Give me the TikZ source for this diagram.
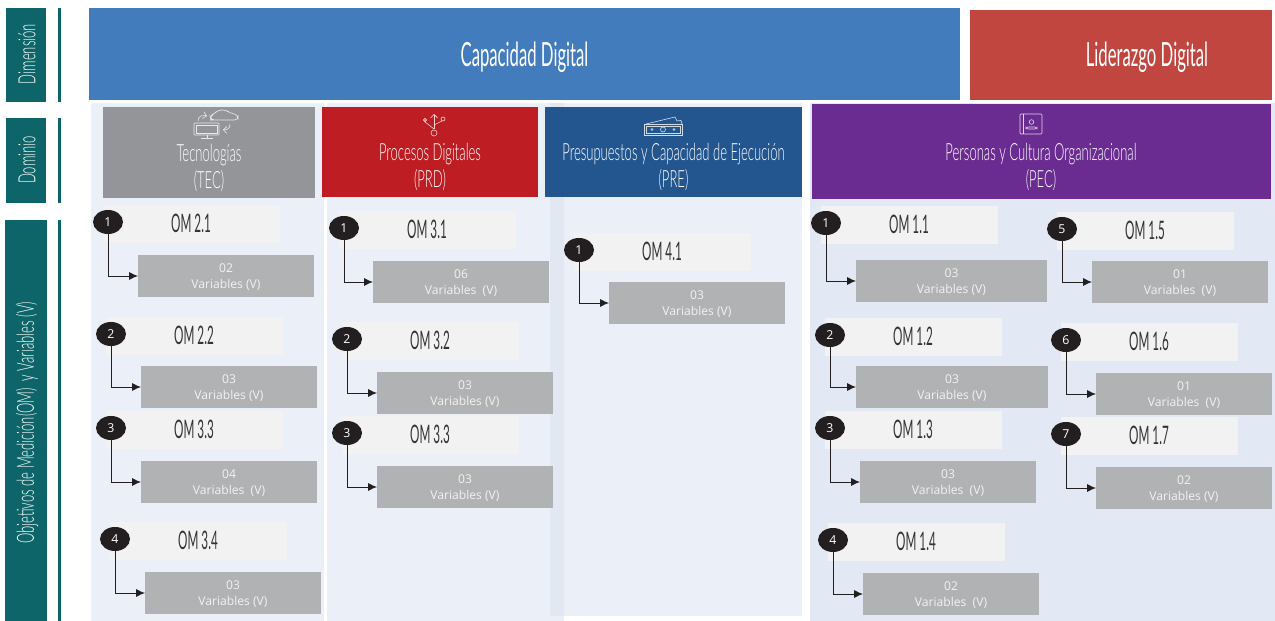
\documentclass[tikz,border=0pt]{standalone}
\usepackage{fontspec}
\usepackage{tikz}
\usetikzlibrary{arrows.meta, positioning, shapes.geometric}
\setmainfont{Open Sans}
\newfontfamily\thinfont[FakeStretch=0.55]{Lato Light}
\newfontfamily\headfont[FakeStretch=0.5]{Lato}
\newfontfamily\omfont[FakeStretch=0.46]{Lato}
\definecolor{tealDark}{HTML}{0E6569}
\definecolor{blueDim}{HTML}{437CBD}
\definecolor{redDim}{HTML}{C0463F}
\definecolor{grayTec}{HTML}{939598}
\definecolor{redPrd}{HTML}{BE1E23}
\definecolor{bluePre}{HTML}{23568F}
\definecolor{purplePec}{HTML}{6A2C91}
\definecolor{panelLight}{HTML}{EBF0F8}
\definecolor{panelOver}{HTML}{E1E8F2}
\definecolor{panelPec}{HTML}{E3E9F4}
\definecolor{omFill}{HTML}{F2F2F2}
\definecolor{varFill}{HTML}{B1B2B4}
\definecolor{badgeBlack}{HTML}{231F20}
\definecolor{omText}{HTML}{333333}
\def\px{0.02cm}
\tikzset{
    block/.style={anchor=north west, inner sep=0pt, outer sep=0pt},
    sidetext/.style={rotate=90, text=white, font=\thinfont\fontsize{13.5}{14}\selectfont},
    dimtext/.style={text=white, font=\headfont\fontsize{19}{21}\selectfont},
    domtext/.style={text=white, align=center, font=\thinfont\fontsize{13.5}{15.5}\selectfont},
    omlabel/.style={text=omText, font=\omfont\fontsize{14.5}{15}\selectfont},
    badge/.style={ellipse, fill=badgeBlack, text=white, inner sep=0pt, minimum width=30*\px, minimum height=24*\px, font=\fontsize{7}{8}\selectfont},
    varbox/.style={block, fill=varFill, text=omFill, align=center, minimum height=42*\px, font=\fontsize{6.9}{9}\selectfont},
    iconline/.style={draw=white, line width=0.35pt, opacity=0.8},
    linker/.style={draw=badgeBlack, line width=0.55pt, -{Latex[length=5pt,width=4.5pt]}}
}
\begin{document}
\begin{tikzpicture}[x=0.02cm, y=-0.02cm]
    \useasboundingbox (0,0) rectangle (1275,621);
    \fill[white] (0,0) rectangle (1275,621);

    % panels
    \fill[panelLight] (91,103) rectangle (324,621);
    \fill[panelLight] (327,103) rectangle (564,621);
    \fill[panelOver] (550,103) rectangle (564,616);
    \fill[panelLight] (564,103) rectangle (802,616);
    \fill[panelPec] (810,103) rectangle (1275,621);

    % left column
    \foreach \bx/\by/\bw/\bh/\name in {6/8/40/94/dim, 6/118/40/85/dom, 5/220/42/401/obj}{
        \node[block, fill=tealDark, minimum width=\bw*\px, minimum height=\bh*\px] (\name) at (\bx,\by) {};
        \fill[tealDark] (58,\by) rectangle +(3,\bh);
    }
    \node[sidetext] at (27,54) {Dimensión};
    \node[sidetext] at (27,160) {Dominio};
    \node[sidetext] at (27,423) {Objetivos de Medición(OM)~~y Variables (V)};

    % dimension
    \node[block, fill=blueDim, minimum width=871*\px, minimum height=92*\px] (capacidad) at (89,8) {};
    \node[block, fill=redDim, minimum width=302*\px, minimum height=90*\px] (liderazgo) at (970,10) {};
    \node[dimtext] at (524.5,57) {Capacidad Digital};
    \node[dimtext] at (1147,57) {Liderazgo Digital};

    % domains
    \node[block, fill=grayTec, minimum width=212*\px, minimum height=91*\px] (tec) at (103,107) {};
    \node[block, fill=redPrd, minimum width=216*\px, minimum height=90*\px] (prd) at (322,107) {};
    \node[block, fill=bluePre, minimum width=257*\px, minimum height=90*\px] (pre) at (545,107) {};
    \node[block, fill=purplePec, minimum width=459*\px, minimum height=95*\px] (pec) at (812,104) {};
    \node[domtext] at (209,168) {Tecnologías\\(TEC)};
    \node[domtext] at (430,167) {Procesos Digitales\\(PRD)};
    \node[domtext] at (673.5,167) {Presupuestos y Capacidad de Ejecución\\(PRE)};
    \node[domtext] at (1041,167) {Personas y Cultura Organizacional\\(PEC)};

    % icons
    \draw[iconline, rounded corners=0.4pt] (194,123) rectangle (219,135);
    \draw[iconline] (196,125) rectangle (217,133);
    \draw[iconline] (207,135) -- (207,138) (201,138.5) -- (213,138.5);
    \draw[iconline, rounded corners=2pt] (214,120) -- (211,120) -- (210,116) -- (214,114) -- (218,110) -- (226,110) -- (230,113) -- (238,115) -- (238,120) -- cycle;
    \draw[iconline, -{Straight Barb[length=2pt]}] (198,121) .. controls (198,116) and (202,115) .. (207,116);
    \draw[iconline, -{Straight Barb[length=2pt]}] (230,124) .. controls (230,128) and (228,130) .. (223,130);

    \draw[iconline, -{Straight Barb[length=2pt]}] (434,129) -- (434,114);
    \draw[iconline] (434,129) -- (425,122) -- (425,120) (434,125) -- (442,121);
    \draw[iconline] (434,133) circle (3);
    \draw[iconline] (425,120) circle (1.6) (443,119) circle (2);

    \draw[iconline] (644,124) rectangle (682,135);
    \draw[iconline] (646,126) rectangle (680,133);
    \draw[iconline] (663,129.5) circle (2.5) (652,129.5) circle (1) (674,129.5) circle (1);
    \draw[iconline] (646,124) -- (675,117) -- (677,121) -- (681,120.5) -- (682,124);

    \draw[iconline, rounded corners=0.6pt] (1020,114) rectangle (1042,134);
    \draw[iconline] (1023,114) -- (1023,134);
    \draw[iconline] (1031.5,122) circle (2.3);
    \draw[iconline, rounded corners=1pt] (1026,129) -- (1026,127) -- (1037,127) -- (1037,129) -- cycle;

    % objectives: badge x/y, number, label, variable box x/y/width, count, text
    \foreach \key/\num/\cx/\cy/\om/\vx/\vy/\vw/\cnt/\vtxt in {
        a/1/108/222/OM 2.1/138/255/176/02/Variables (V),
        b/2/111/334/OM 2.2/141/366/176/03/Variables (V),
        c/3/111/428/OM 3.3/141/461/176/04/Variables~~(V),
        d/4/115/539/OM 3.4/145/572/176/03/Variables (V),
        e/1/344/228/OM 3.1/373/261/176/06/Variables~~(V),
        f/2/347/339/OM 3.2/377/372/176/03/Variables (V),
        g/3/347/433/OM 3.3/377/466/176/03/Variables (V),
        h/1/579/250/OM 4.1/609/282/176/03/Variables (V),
        i/1/826/223/OM 1.1/856/260/191/03/Variables (V),
        j/2/830/335/OM 1.2/856/366/192/03/Variables (V),
        k/3/830/428/OM 1.3/860/461/176/03/Variables~~(V),
        l/4/833/540/OM 1.4/863/573/176/02/Variables~~(V),
        m/5/1062/229/OM 1.5/1092/261/176/01/Variables~~(V),
        n/6/1066/340/OM 1.6/1096/373/176/01/Variables~~(V),
        o/7/1066/434/OM 1.7/1096/467/176/02/Variables (V)}{
        \fill[omFill] (\cx-5,\cy-17) rectangle +(177,38);
        \node[omlabel] (om\key) at (\cx+83,\cy+1) {\om};
        \node[badge] (badge\key) at (\cx,\cy) {\num};
        \node[varbox, minimum width=\vw*\px] (var\key) at (\vx,\vy) {\rule{0pt}{6.2pt}\cnt\\\vtxt};
        \draw[linker] (badge\key.south) |- (var\key.west);
    }
\end{tikzpicture}
\end{document}
